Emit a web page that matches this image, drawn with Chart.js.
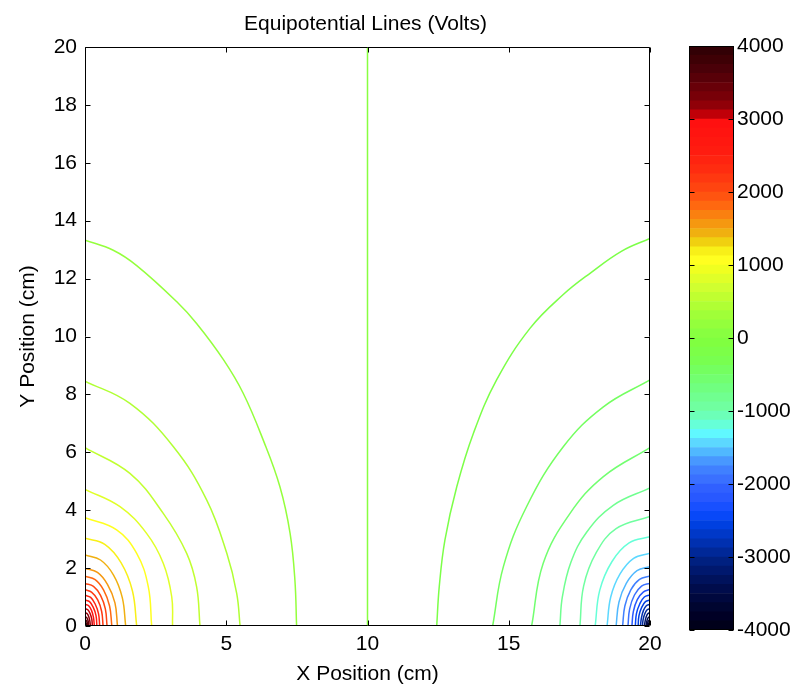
<!DOCTYPE html>
<html>
<head>
<meta charset="utf-8">
<script src="https://cdn.jsdelivr.net/npm/chart.js@4.4.1/dist/chart.umd.min.js"></script>
<style>
  html, body { margin: 0; padding: 0; background: #fff; }
  #wrap { position: relative; width: 799px; height: 689px; }
  #wrap canvas { position: absolute; left: 0; top: 0; }
</style>
</head>
<body>
<div id="wrap">
  <canvas id="main" width="799" height="689"></canvas>
  <canvas id="cbar" width="799" height="689"></canvas>
</div>
<script>
const TITLE = "Equipotential Lines (Volts)";
const X_TITLE = "X Position (cm)";
const Y_TITLE = "Y Position (cm)";

const xTicks = [0, 5, 10, 15, 20];
const yTicks = [0, 2, 4, 6, 8, 10, 12, 14, 16, 18, 20];
const cbarTicks = [-4000, -3000, -2000, -1000, 0, 1000, 2000, 3000, 4000];
const cbarMin = -4000;
const cbarMax = 4000;

// colormap, bottom (-4000) to top (4000)
const cbarColors = [
  "#00001a", "#000025", "#000530", "#00083e", "#000c4c", "#00125c", "#00186e", "#002080",
  "#002898", "#0030b0", "#0038c8", "#0040e0", "#0848f8", "#1850ff", "#2858ff", "#3060ff",
  "#3a70ff", "#4080ff", "#4898ff", "#50b8ff", "#5cd8ff", "#60f8ff", "#66ffd8", "#6cffb8",
  "#70ffa0", "#70ff90", "#70ff80", "#72ff70", "#74ff60", "#78ff50", "#7cff48", "#80ff40",
  "#88ff40", "#94ff3c", "#a0ff38", "#b0ff34", "#c0ff30", "#d0ff30", "#e0ff28", "#f0ff20",
  "#ffff20", "#f8f018", "#f0d010", "#f0b010", "#f59810", "#fa8010", "#ff6810", "#ff5410",
  "#ff4410", "#ff3810", "#ff2c10", "#ff2410", "#ff1c10", "#ff1810", "#ff1410", "#ff1010",
  "#c00008", "#900008", "#780008", "#680008", "#580008", "#4a0008", "#3e0005", "#320005"
];

// positive charge side (around x = 0)
const leftLevels = [200, 400, 600, 800, 1000, 1200, 1400, 1600, 1800, 2000, 2200, 2400, 2600, 2800, 3000, 3200, 3400, 3600, 3800];
const leftX = [
  [0, 1.0, 1.83, 3.25, 3.95, 4.9, 5.6, 6.31, 6.9, 7.26, 7.43, 7.49],
  [0, 1.59, 3.13, 4.31, 5.02, 5.37, 5.49],
  [0, 1.59, 2.77, 3.6, 3.95, 4.07],
  [0, 1.24, 2.18, 2.77, 3.07, 3.10],
  [0, 1.12, 1.83, 2.24, 2.36],
  [0, 0.70, 1.28, 1.68, 1.83],
  [0, 0.55, 1.01, 1.32, 1.44],
  [0, 0.44, 0.80, 1.06, 1.15],
  [0, 0.36, 0.66, 0.87, 0.95],
  [0, 0.30, 0.55, 0.72, 0.78],
  [0, 0.24, 0.45, 0.59, 0.64],
  [0, 0.20, 0.36, 0.48, 0.52],
  [0, 0.16, 0.29, 0.39, 0.42],
  [0, 0.13, 0.23, 0.30, 0.33],
  [0, 0.10, 0.18, 0.24, 0.26],
  [0, 0.07, 0.13, 0.17, 0.19],
  [0, 0.05, 0.09, 0.12, 0.13],
  [0, 0.035, 0.065, 0.085, 0.09],
  [0, 0.02, 0.04, 0.055, 0.06]
];
const leftY = [
  [13.33, 12.98, 12.45, 11.2, 10.45, 9.2, 8.04, 6.42, 4.81, 3.2, 1.59, 0],
  [8.46, 7.69, 6.19, 4.35, 2.51, 1.13, 0],
  [6.16, 5.27, 3.89, 2.51, 1.36, 0],
  [4.72, 4.12, 3.2, 2.17, 1.01, 0],
  [3.74, 3.32, 2.51, 1.36, 0],
  [3.03, 2.82, 2.18, 1.21, 0],
  [2.45, 2.28, 1.76, 0.98, 0],
  [1.99, 1.85, 1.43, 0.80, 0],
  [1.72, 1.60, 1.24, 0.69, 0],
  [1.47, 1.37, 1.06, 0.59, 0],
  [1.25, 1.16, 0.90, 0.50, 0],
  [1.06, 0.99, 0.76, 0.42, 0],
  [0.90, 0.84, 0.65, 0.36, 0],
  [0.75, 0.70, 0.54, 0.30, 0],
  [0.60, 0.56, 0.43, 0.24, 0],
  [0.46, 0.43, 0.33, 0.18, 0],
  [0.32, 0.30, 0.23, 0.13, 0],
  [0.22, 0.20, 0.16, 0.09, 0],
  [0.14, 0.13, 0.10, 0.06, 0]
];

// negative charge side (around x = 20)
const rightLevels = [-200, -400, -600, -800, -1000, -1200, -1400, -1600, -1800, -2000, -2200, -2400, -2600, -2800, -3000, -3200, -3400, -3600, -3800];
const rightX = [
  [12.45, 12.54, 12.74, 13.16, 13.75, 14.57, 15.75, 16.93, 17.9, 19.0, 20],
  [14.43, 14.81, 15.63, 16.93, 18.35, 20],
  [15.81, 16.22, 17.17, 18.35, 20],
  [16.81, 16.9, 17.2, 17.75, 18.7, 20],
  [17.52, 17.65, 18.1, 18.8, 20],
  [18.06, 18.22, 18.65, 19.26, 20],
  [18.48, 18.61, 18.94, 19.42, 20],
  [18.8, 18.9, 19.16, 19.54, 20],
  [19.03, 19.11, 19.32, 19.63, 20],
  [19.22, 19.28, 19.45, 19.7, 20],
  [19.36, 19.41, 19.55, 19.76, 20],
  [19.48, 19.52, 19.64, 19.8, 20],
  [19.58, 19.61, 19.71, 19.84, 20],
  [19.66, 19.7, 19.77, 19.87, 20],
  [19.73, 19.76, 19.82, 19.9, 20],
  [19.8, 19.83, 19.87, 19.93, 20],
  [19.86, 19.88, 19.91, 19.95, 20],
  [19.9, 19.915, 19.935, 19.965, 20],
  [19.94, 19.945, 19.96, 19.98, 20]
];
const rightY = [
  [0, 1.36, 2.97, 4.81, 6.66, 8.5, 10.28, 11.45, 12.2, 12.95, 13.39],
  [0, 2.05, 4.12, 6.19, 7.57, 8.5],
  [0, 2.17, 3.89, 5.16, 6.16],
  [0, 1.02, 2.2, 3.23, 4.17, 4.77],
  [0, 1.38, 2.54, 3.36, 3.78],
  [0, 1.23, 2.22, 2.87, 3.08],
  [0, 1.0, 1.8, 2.34, 2.51],
  [0, 0.82, 1.47, 1.91, 2.05],
  [0, 0.69, 1.25, 1.61, 1.73],
  [0, 0.59, 1.07, 1.38, 1.48],
  [0, 0.5, 0.91, 1.17, 1.26],
  [0, 0.43, 0.77, 1.0, 1.07],
  [0, 0.36, 0.65, 0.84, 0.9],
  [0, 0.3, 0.54, 0.7, 0.75],
  [0, 0.24, 0.43, 0.56, 0.6],
  [0, 0.18, 0.33, 0.43, 0.46],
  [0, 0.13, 0.23, 0.3, 0.32],
  [0, 0.09, 0.16, 0.2, 0.22],
  [0, 0.06, 0.1, 0.13, 0.14]
];

// the 0 V line halfway between the charges
const zeroLevel = 0;
const zeroX = [10, 10];
const zeroY = [0, 20];

const FONT = "\"Liberation Sans\", Arial, Helvetica, sans-serif";
Chart.defaults.font.family = FONT;
Chart.defaults.font.size = 21;
Chart.defaults.color = "#000";

const cbarStep = (cbarMax - cbarMin) / cbarColors.length;

function levelColor(v) {
  const i = Math.floor((v - cbarMin) / cbarStep);
  return cbarColors[Math.max(0, Math.min(cbarColors.length - 1, i))];
}

function contourSets(levels, xs, ys) {
  return levels.map((lv, i) => ({
    data: xs[i].map((x, j) => ({ x, y: ys[i][j] })),
    borderColor: levelColor(lv),
    borderWidth: 1.5,
    pointRadius: 0,
    showLine: true,
    tension: 0.4,
    fill: false
  }));
}

// box with inward ticks, matlab style
const frame = {
  id: "frame",
  afterDraw(c, args, opts) {
    const { ctx, chartArea: a, scales } = c;
    const crisp = (v) => Math.round(v) + 0.5;
    const L = crisp(a.left), R = crisp(a.right - 1), T = crisp(a.top), B = crisp(a.bottom - 1);
    ctx.save();
    ctx.strokeStyle = "#000";
    ctx.lineWidth = 1;
    ctx.beginPath();
    ctx.rect(L, T, R - L, B - T);
    (opts.xTicks || []).forEach((v) => {
      const p = crisp(scales.x.getPixelForValue(v));
      ctx.moveTo(p, B); ctx.lineTo(p, B - 5);
      ctx.moveTo(p, T); ctx.lineTo(p, T + 5);
    });
    (opts.yTicks || []).forEach((v) => {
      const p = crisp(scales.y.getPixelForValue(v));
      ctx.moveTo(L, p); ctx.lineTo(L + 5, p);
      ctx.moveTo(R, p); ctx.lineTo(R - 5, p);
    });
    ctx.stroke();
    if (opts.title) {
      ctx.fillStyle = "#000";
      ctx.font = "21px " + FONT;
      ctx.textAlign = "center";
      ctx.textBaseline = "alphabetic";
      ctx.fillText(opts.title, (a.left + a.right) / 2 - 2, 30);
    }
    ctx.restore();
  }
};

const datasets = [
  ...contourSets(leftLevels, leftX, leftY),
  ...contourSets([zeroLevel], [zeroX], [zeroY]),
  ...contourSets(rightLevels, rightX, rightY)
];

new Chart(document.getElementById("main"), {
  type: "scatter",
  data: { datasets },
  plugins: [frame],
  options: {
    responsive: false,
    animation: false,
    layout: { padding: { left: 0, top: 47, right: 149, bottom: 0 } },
    plugins: {
      legend: { display: false },
      tooltip: { enabled: false },
      frame: { xTicks, yTicks, title: TITLE }
    },
    scales: {
      x: {
        type: "linear",
        min: 0,
        max: 20,
        afterBuildTicks: (s) => { s.ticks = xTicks.map((v) => ({ value: v })); },
        ticks: { padding: 6, color: "#000" },
        grid: { display: false, drawTicks: false },
        border: { display: false },
        title: { display: true, text: X_TITLE, padding: { top: 0, bottom: 2 } },
        afterFit: (s) => { s.height = 63; }
      },
      y: {
        type: "linear",
        min: 0,
        max: 20,
        afterBuildTicks: (s) => { s.ticks = yTicks.map((v) => ({ value: v })); },
        ticks: { padding: 8, color: "#000" },
        grid: { display: false, drawTicks: false },
        border: { display: false },
        title: { display: true, text: Y_TITLE, padding: { top: 16, bottom: 0 } },
        afterFit: (s) => { s.width = 85; }
      }
    }
  }
});

// colour bar: one floating bar per colormap band
const cbarSets = cbarColors.map((col, i) => ({
  data: [[cbarMin + i * cbarStep, cbarMin + (i + 1) * cbarStep]],
  backgroundColor: col,
  borderWidth: 0,
  barPercentage: 1,
  categoryPercentage: 1,
  grouped: false
}));

new Chart(document.getElementById("cbar"), {
  type: "bar",
  data: { labels: ["V"], datasets: cbarSets },
  plugins: [frame],
  options: {
    responsive: false,
    animation: false,
    layout: { padding: { left: 689, top: 46, right: 0, bottom: 59 } },
    plugins: {
      legend: { display: false },
      tooltip: { enabled: false },
      frame: { yTicks: cbarTicks }
    },
    scales: {
      x: { display: false },
      y: {
        position: "right",
        min: cbarMin,
        max: cbarMax,
        afterBuildTicks: (s) => { s.ticks = cbarTicks.map((v) => ({ value: v })); },
        ticks: { padding: 3, color: "#000", callback: (v) => String(v) },
        grid: { display: false, drawTicks: false },
        border: { display: false },
        afterFit: (s) => { s.width = 65; }
      }
    }
  }
});
</script>
</body>
</html>
